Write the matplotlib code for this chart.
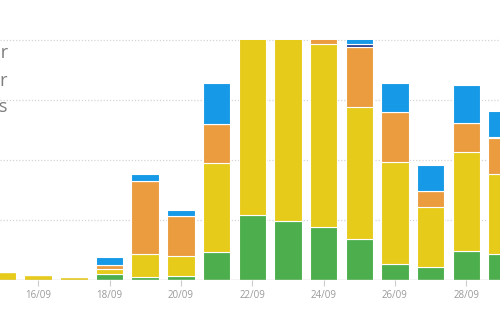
import matplotlib
matplotlib.use("Agg")
import matplotlib.pyplot as plt
import numpy as np

# daily stacked totals, 15/09 .. 29/09
days = ["15/09", "16/09", "17/09", "18/09", "19/09", "20/09", "21/09", "22/09",
        "23/09", "24/09", "25/09", "26/09", "27/09", "28/09", "29/09"]
green = [0, 0, 0, 1.0, 0.5, 0.75, 4.7, 10.8, 9.9, 8.9, 6.8, 2.7, 2.2, 4.8, 4.3]
yellow = [1.3, 0.8, 0.5, 0.8, 3.8, 3.2, 14.8, 32, 32, 30.4, 22.1, 17.0, 10.0, 16.5, 13.3]
orange = [0, 0, 0, 0.75, 12.25, 6.8, 6.5, 0, 0, 1.5, 9.9, 8.3, 2.7, 4.8, 6.1]
navy = [0, 0, 0, 0, 0, 0, 0, 0, 0, 0, 0.55, 0, 0, 0.15, 0.2]
blue = [0, 0, 0, 1.3, 1.2, 1.0, 6.8, 0, 0, 0, 1.5, 4.8, 4.2, 6.2, 4.3]

series = [green, yellow, orange, navy, blue]
colors = ["#4cae4c", "#e6cb1a", "#ea9c3f", "#2c3f8e", "#1699e6"]
legend_labels = ["Indoor", "Outdoor", "Others"]

fig = plt.figure(figsize=(5, 3.3), dpi=100)
ax = fig.add_axes([0, 50 / 330, 1, 240 / 330])

x = np.arange(len(days))
bottom = np.zeros(len(days))
for vals, c in zip(series, colors):
    vals = np.array(vals, dtype=float)
    ax.bar(x, vals, bottom=bottom, width=0.77, color=c,
           edgecolor="white", linewidth=0.8, zorder=3)
    bottom += vals

ax.set_xlim(-0.07, 13.943)
ax.set_ylim(0, 40)

for v in [10, 20, 30, 40]:
    ax.axhline(v, color="#d4d4d4", linestyle=(0, (1, 1.5)), linewidth=0.9,
               zorder=1, clip_on=False)
ax.axhline(0, color="#cccccc", linewidth=1.0, zorder=4)

for s in ax.spines.values():
    s.set_visible(False)
ax.set_yticks([])
ax.set_xticks(x[1::2])
ax.set_xticklabels(days[1::2], fontfamily="Open Sans", fontsize=7, color="#9a9a9a")
ax.tick_params(axis="x", length=4.5, width=0.8, color="#cccccc", pad=2.5)

# legend text on the left edge
for lbl, yb in zip(legend_labels, [272, 244, 218]):
    fig.text(8.5 / 500, yb / 330, lbl, ha="right", va="baseline",
             fontsize=13, color="#7d7d7d", fontfamily="Open Sans")

fig.savefig("out.png", dpi=100)
